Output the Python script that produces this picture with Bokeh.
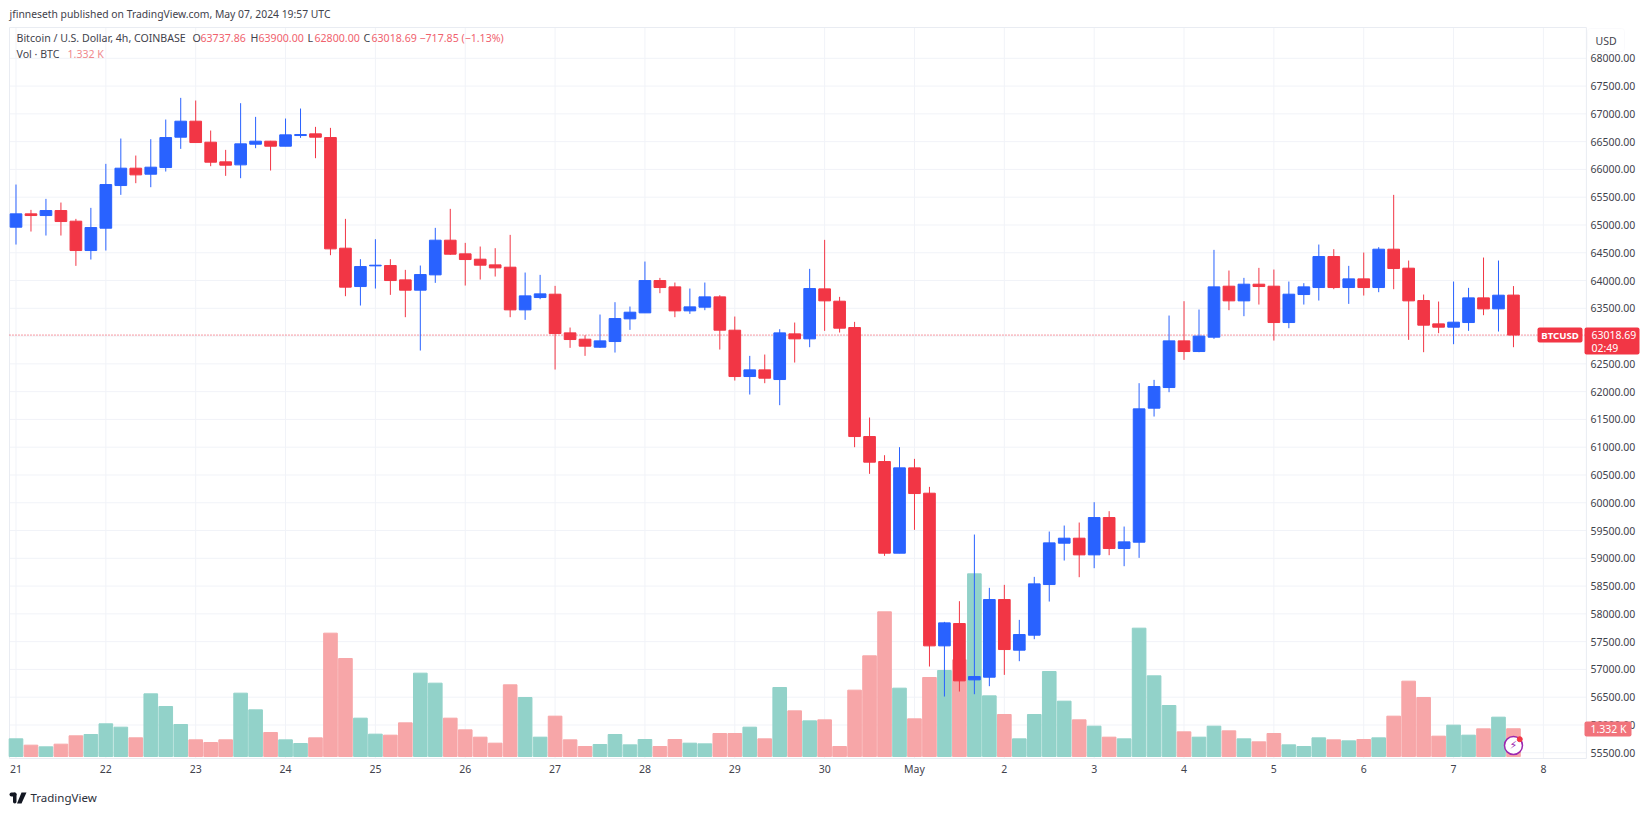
from bokeh.plotting import figure
from bokeh.embed import file_html
from bokeh.resources import INLINE
from bokeh.models import ColumnDataSource, Range1d, FixedTicker, NumeralTickFormatter, Label, \
    BoxAnnotation, PolyAnnotation

# 4h candles, Apr 21 00:00 -> May 7 16:00
opens = [64960, 65200, 65170, 65260, 65068, 64540, 64942, 65710, 66022, 65914,
         66034, 66580, 66868, 66490, 66136, 66082, 66454, 66508, 66418, 66610,
         66640, 66574, 64582, 63892, 64264, 64270, 64012, 63826, 64102, 64726,
         64480, 64384, 64282, 64240, 63472, 63694, 63754, 63058, 62944, 62800,
         62902, 63310, 63418, 64000, 63886, 63454, 63520, 63706, 63106, 62272,
         62392, 62218, 63040, 62950, 63850, 63628, 63154, 61192, 60742, 59092,
         60628, 60172, 57424, 57826, 56812, 56860, 58258, 57346, 57616, 58528,
         59272, 59362, 59062, 59734, 59176, 59290, 61702, 62074, 62914, 62722,
         62980, 63898, 63634, 63934, 63898, 63244, 63748, 63874, 64432, 63874,
         64030, 63874, 64564, 64222, 63640, 63220, 63160, 63244, 63688, 63490,
         63737.86]
highs = [65728, 65272, 65470, 65404, 65110, 65308, 66100, 66556, 66250, 66544,
         66898, 67288, 67240, 66700, 66352, 67192, 66946, 66514, 66916, 67096,
         66766, 66748, 65110, 64384, 64744, 64384, 64192, 64270, 64948, 65290,
         64678, 64612, 64582, 64822, 64144, 64102, 63904, 63154, 63016, 63388,
         63610, 63532, 64342, 64048, 63964, 63856, 63964, 63736, 63352, 62644,
         62668, 63124, 63244, 64210, 64732, 63706, 63256, 61534, 60856, 61000,
         60790, 60286, 57856, 58228, 59428, 58468, 58522, 57892, 58666, 59482,
         59590, 59644, 60010, 59848, 59572, 62152, 62212, 63370, 63628, 63478,
         64552, 64180, 64048, 64228, 64198, 63982, 63952, 64648, 64564, 64264,
         64504, 64600, 65542, 64360, 63748, 63622, 63982, 63868, 64414, 64360,
         63900]
lows = [64648, 64882, 64810, 64810, 64264, 64378, 64540, 65542, 65752, 65680,
        65962, 66370, 66484, 66058, 65884, 65842, 66382, 65980, 66418, 66568,
        66202, 64456, 63718, 63550, 63856, 63742, 63340, 62740, 63958, 64462,
        63910, 64018, 64072, 63340, 63292, 63664, 62398, 62788, 62644, 62788,
        62704, 63112, 63418, 63772, 63340, 63400, 63466, 62758, 62200, 61948,
        62152, 61756, 62524, 62800, 63094, 63064, 61000, 60520, 59044, 59092,
        59512, 57052, 56512, 56602, 56554, 56698, 56902, 57148, 57544, 58222,
        58960, 58660, 58822, 59056, 58858, 59008, 61552, 61990, 62572, 62710,
        62950, 63466, 63358, 63568, 62920, 63142, 63568, 63640, 63844, 63580,
        63730, 63790, 63844, 62932, 62710, 63052, 62854, 63094, 63376, 63082,
        62800]
closes = [65200, 65170, 65260, 65062, 64540, 64954, 65728, 66022, 65902, 66040,
          66574, 66868, 66484, 66130, 66076, 66460, 66508, 66418, 66622, 66628,
          66580, 64570, 63880, 64252, 64276, 64000, 63826, 64108, 64726, 64474,
          64378, 64276, 64228, 63472, 63724, 63760, 63046, 62938, 62818, 62914,
          63316, 63430, 64000, 63874, 63454, 63526, 63706, 63106, 62272, 62392,
          62242, 63058, 62950, 63856, 63634, 63142, 61192, 60730, 59092, 60628,
          60166, 57424, 57838, 56794, 56872, 58258, 57358, 57628, 58540, 59278,
          59362, 59062, 59734, 59176, 59296, 61690, 62092, 62914, 62722, 63000,
          63886, 63634, 63934, 63892, 63244, 63754, 63886, 64432, 63874, 64030,
          63874, 64564, 64216, 63634, 63196, 63160, 63250, 63688, 63490, 63736,
          63018.69]
volumes = [848, 544, 464, 592, 992, 1056, 1568, 1408, 896, 3008,
           2400, 1536, 800, 672, 800, 3040, 2240, 1152, 800, 624,
           896, 5920, 4704, 1840, 1072, 1024, 1616, 4000, 3520, 1840,
           1280, 928, 640, 3440, 2832, 928, 1936, 800, 480, 576,
           1056, 560, 816, 480, 816, 640, 608, 1104, 1104, 1408,
           848, 3312, 2192, 1712, 1760, 480, 3184, 4832, 6944, 3280,
           1808, 3792, 4128, 4640, 8768, 2912, 2016, 848, 2016, 4080,
           2656, 1760, 1456, 928, 848, 6160, 3872, 2448, 1184, 928,
           1456, 1232, 848, 704, 1104, 560, 480, 896, 800, 752,
           816, 896, 1936, 3616, 2832, 976, 1504, 1024, 1328, 1888,
           1332]

day_ticks = [0, 6, 12, 18, 24, 30, 36, 42, 48, 54, 60, 66, 72, 78, 84, 90, 96, 102]
day_labels = ["21", "22", "23", "24", "25", "26", "27", "28", "29", "30", "May", "2", "3", "4", "5", "6", "7", "8"]
price_ticks = [55500 + 500 * n for n in range(26)]
last_close = closes[-1]

RED = "#f23645"
BLUE = "#2962ff"
VOL_RED = "#f7a6a8"
VOL_GREEN = "#92d2c9"
GRID = "#f1f3f8"
EDGE = "#e9ecf2"
TEXT = "#3f424c"
W, H = 1644, 805
# the frame fills the whole canvas since annotations get clipped to it;
# the chart pane inside it runs between these data values
PANE_LEFT, PANE_RIGHT, PANE_BOTTOM, PANE_TOP = -0.434, 104.87, 55397, 68555

up = [c >= o for o, c in zip(opens, closes)]
source = ColumnDataSource(data=dict(
    x=list(range(len(opens))),
    high=highs,
    low=lows,
    top=[max(o, c) for o, c in zip(opens, closes)],
    bottom=[min(o, c) for o, c in zip(opens, closes)],
    vol=volumes,
    color=[BLUE if u else RED for u in up],
    vol_color=[VOL_GREEN if u else VOL_RED for u in up],
))

p = figure(frame_width=W, frame_height=H, output_backend="svg", toolbar_location=None, tools="",
           x_range=Range1d(-1.035, 108.75), y_range=Range1d(54550.6, 69040.6),
           y_axis_location="right",
           min_border_left=0, min_border_right=0, min_border_top=0, min_border_bottom=0)
p.extra_y_ranges = {"volume": Range1d(-2352, 36288)}
p.outline_line_color = None
p.background_fill_color = "white"
p.grid.visible = False

# grid lines, stopped at the pane edges
p.segment(x0=[PANE_LEFT] * len(price_ticks), y0=price_ticks, x1=[PANE_RIGHT] * len(price_ticks), y1=price_ticks,
          color=GRID, line_width=1, level="underlay")
p.segment(x0=day_ticks, y0=[PANE_BOTTOM] * len(day_ticks), x1=day_ticks, y1=[PANE_TOP] * len(day_ticks),
          color=GRID, line_width=1, level="underlay")
p.quad(left=[PANE_LEFT], right=[PANE_RIGHT], bottom=[PANE_BOTTOM], top=[PANE_TOP], fill_color=None, line_color=EDGE,
       level="underlay")

p.xaxis.ticker = FixedTicker(ticks=day_ticks)
p.xaxis.major_label_overrides = dict(zip(day_ticks, day_labels))
p.yaxis.ticker = FixedTicker(ticks=price_ticks)
p.yaxis.formatter = NumeralTickFormatter(format="0.00")
# negative standoff so the axes take no room off the frame, fixed_location puts the labels back in place
p.yaxis.major_label_standoff = -40
p.yaxis.fixed_location = 107.41
p.xaxis.major_label_standoff = -10
p.xaxis.fixed_location = 55270
for ax in [p.xaxis, p.yaxis]:
    ax.axis_line_color = None
    ax.major_tick_line_color = None
    ax.minor_tick_line_color = None
    ax.major_label_text_color = TEXT
    ax.major_label_text_font = "Noto Sans"
    ax.major_label_text_font_size = "10.5px"

p.line([PANE_LEFT, PANE_RIGHT], [last_close, last_close], color=RED, line_dash=[1, 2], line_width=1, level="underlay")

p.vbar("x", top="vol", bottom=0, width=0.91, color="vol_color", source=source, y_range_name="volume")
p.segment("x", "high", "x", "low", color="color", line_width=1, source=source)
p.vbar("x", top="top", bottom="bottom", width=0.78, color="color", source=source)

# publish marker on the last bar
p.scatter([100], [528], size=18, marker="circle", fill_color="white", line_color="#9c27b0", line_width=1.5,
          y_range_name="volume")
p.scatter([100.42], [830], size=5, marker="circle", color=RED, y_range_name="volume")
p.add_layout(Label(x=100, y=528, y_range_name="volume", text="\u26a1", text_font="DejaVu Sans",
                   text_font_size="11px", text_color="#9c27b0", text_align="center", text_baseline="middle"))


# px, py are page pixels from the top left, screen units count from the bottom left
def text_at(px, py, text, color=TEXT, size="10.6px", align="left", bold=False):
    p.add_layout(Label(x=px, y=H - py, x_units="screen", y_units="screen", text=text,
                       text_color=color, text_font="Noto Sans", text_font_size=size, text_align=align,
                       text_baseline="middle", text_font_style="bold" if bold else "normal"))


def tag(left, right, top, bottom, color):
    p.add_layout(BoxAnnotation(left=left, right=right, top=H - top, bottom=H - bottom,
                               left_units="screen", right_units="screen", top_units="screen", bottom_units="screen",
                               fill_color=color, fill_alpha=1, line_color=None, border_radius=2))


text_at(9, 13, "jfinneseth published on TradingView.com, May 07, 2024 19:57 UTC", size="10.35px")
text_at(16, 37.5, "Bitcoin / U.S. Dollar, 4h, COINBASE")
for px, letter, val_px, val in [(192, "O", 200, "63737.86"), (250, "H", 258, "63900.00"),
                                (307, "L", 314, "62800.00"), (363, "C", 371, "63018.69")]:
    text_at(px, 37.5, letter)
    text_at(val_px, 37.5, val, color="#f0626e")
text_at(419, 37.5, "\u2212717.85 (\u22121.13%)", color="#f0626e")
text_at(16, 53, "Vol \u00b7 BTC")
text_at(67, 53, "1.332 K", color="#ef8a8e")

p.add_layout(BoxAnnotation(left=1587, right=1624, top=H - 28, bottom=H - 51, left_units="screen", right_units="screen",
                           top_units="screen", bottom_units="screen", fill_alpha=0, line_color="#eef0f5",
                           border_radius=3))
text_at(1595, 40, "USD", size="10.5px")

tag(1537, 1582, 327, 342, RED)
text_at(1559.5, 334.5, "BTCUSD", color="white", align="center", bold=True, size="9.6px")
tag(1584, 1639, 327, 354, RED)
text_at(1591, 334.5, "63018.69", color="white", size="10.5px")
text_at(1591, 347, "02:49", color="white", size="10.5px")
tag(1584, 1631, 721, 736, "#f1737b")
text_at(1590, 728.5, "1.332 K", color="white", size="10.5px")

# TradingView logo, bottom left
tag(9, 16, 792, 796, "#131722")
tag(12.5, 16, 792, 803, "#131722")
p.add_layout(PolyAnnotation(xs=[21, 26, 21, 16.5], ys=[H - 792, H - 792, H - 803, H - 803],
                            xs_units="screen", ys_units="screen", fill_color="#131722", fill_alpha=1, line_color=None))
text_at(30, 797, "TradingView", color="#2a2e39", size="11.5px")

open("out.html", "w").write(file_html(p, INLINE))
